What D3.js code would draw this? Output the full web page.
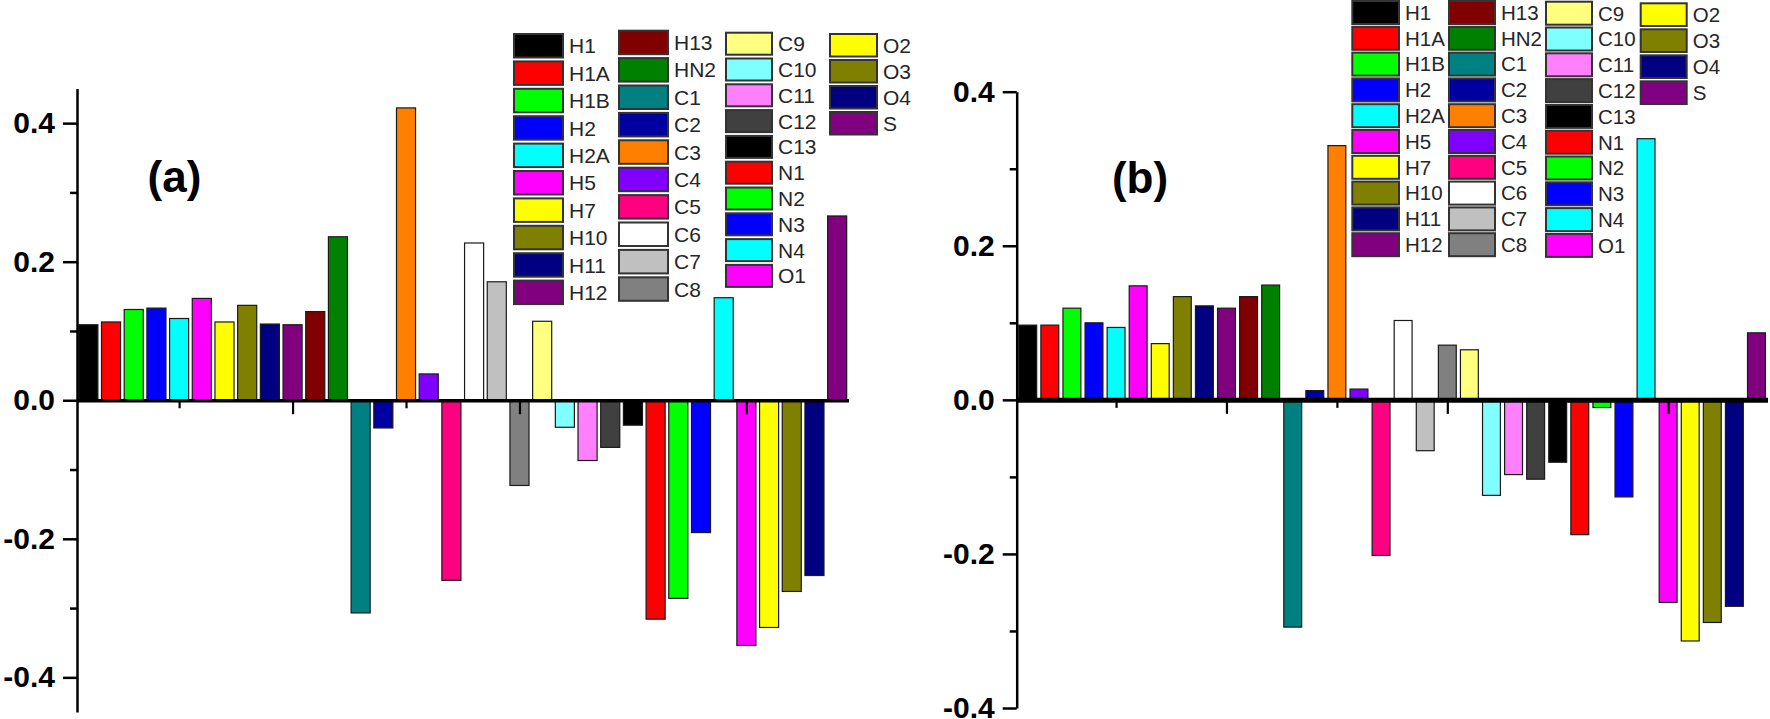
<!DOCTYPE html>
<html>
<head>
<meta charset="utf-8">
<script src="https://cdn.jsdelivr.net/npm/d3@7"></script>
<style>
  html, body { margin: 0; padding: 0; background: #fff; }
  svg { display: block; font-family: "Liberation Sans", Arial, Helvetica, sans-serif; }
</style>
</head>
<body>
<svg id="chart" width="1770" height="719"></svg>
<script>
// ---------------- DATA ----------------
const categories = ["H1","H1A","H1B","H2","H2A","H5","H7","H10","H11","H12",
                    "H13","HN2","C1","C2","C3","C4","C5","C6","C7","C8",
                    "C9","C10","C11","C12","C13","N1","N2","N3","N4","O1",
                    "O2","O3","O4","S"];

const colors = ["#000000","#FF0000","#00FF00","#0000FF","#00FFFF","#FF00FF","#FFFF00","#808000","#000080","#800080",
                "#800000","#008000","#008080","#0000A0","#FF8000","#8000FF","#FF0080","#FFFFFF","#C0C0C0","#808080",
                "#FFFF80","#80FFFF","#FF80FF","#404040","#000000","#FF0000","#00FF00","#0000FF","#00FFFF","#FF00FF",
                "#FFFF00","#808000","#000080","#800080"];

const valuesA = [0.109, 0.113, 0.131, 0.133, 0.118, 0.147, 0.113, 0.137, 0.110, 0.109,
                 0.128, 0.236, -0.307, -0.040, 0.422, 0.038, -0.260, 0.227, 0.171, -0.123,
                 0.114, -0.039, -0.087, -0.068, -0.036, -0.316, -0.286, -0.191, 0.148, -0.354,
                 -0.328, -0.276, -0.253, 0.266];

const valuesB = [0.097, 0.097, 0.119, 0.100, 0.094, 0.148, 0.073, 0.134, 0.122, 0.119,
                 0.134, 0.149, -0.295, 0.012, 0.330, 0.014, -0.202, 0.103, -0.066, 0.071,
                 0.065, -0.124, -0.097, -0.103, -0.081, -0.175, -0.010, -0.126, 0.339, -0.263,
                 -0.313, -0.289, -0.268, 0.087];

const yMajorTicks = [-0.4, -0.2, 0.0, 0.2, 0.4];
const yMinorTicks = [-0.3, -0.1, 0.1, 0.3];
const xMajorTicks = [10, 20, 30];
const xMinorTicks = [5, 15, 25];
const panelLabels = ["(a)", "(b)"];
// legend column membership (number of entries in each column)
const legendColumnSizes = [10, 10, 10, 4];

// ---------------- LAYOUT ----------------
const panels = [
  { values: valuesA, label: panelLabels[0],
    xRange: [77, 848.5], yDomain: [-0.45, 0.45], yRange: [712, 88.5],
    xAxisWidth: 3.5, barFrac: 0.84,
    labelPos: [174.5, 192],
    legend: { cols: [ {x: 514, y: 34,   pitch: 27.4, w: 49, h: 23.5},
                      {x: 619, y: 30.7, pitch: 27.4, w: 49, h: 23.5},
                      {x: 726, y: 32.7, pitch: 25.8, w: 46, h: 22},
                      {x: 830, y: 34,   pitch: 26,   w: 47, h: 22.5} ],
              fontSize: 21, gap: 6 } },
  { values: valuesB, label: panelLabels[1],
    xRange: [1016.7, 1767.5], yDomain: [-0.4, 0.4], yRange: [708, 91.7],
    xAxisWidth: 5, barFrac: 0.81,
    labelPos: [1140, 193],
    legend: { cols: [ {x: 1352.3, y: 1,   pitch: 25.8, w: 46.7, h: 23},
                      {x: 1449,   y: 1,   pitch: 25.8, w: 46,   h: 23},
                      {x: 1546,   y: 1.7, pitch: 25.8, w: 46,   h: 23},
                      {x: 1640.7, y: 3.3, pitch: 26,   w: 46,   h: 22.7} ],
              fontSize: 20.5, gap: 6 } }
];

const svg = d3.select("#chart");
const fmt = v => d3.format(".1f")(v).replace("\u2212", "-");

panels.forEach(p => {
  const g = svg.append("g");
  const x = d3.scaleLinear().domain([0.5, categories.length + 0.5]).range(p.xRange);
  const y = d3.scaleLinear().domain(p.yDomain).range(p.yRange);
  const bw = (x(2) - x(1)) * p.barFrac;

  // bars
  g.append("g").selectAll("rect")
    .data(p.values)
    .join("rect")
    .attr("x", (d, i) => x(i + 1) - bw / 2)
    .attr("y", d => y(Math.max(0, d)))
    .attr("width", bw)
    .attr("height", d => Math.abs(y(d) - y(0)))
    .attr("fill", (d, i) => colors[i])
    .attr("stroke", "#1a1a1a")
    .attr("stroke-width", 1.2);

  // x axis (zero line) with ticks
  const xAxisMajor = d3.axisBottom(x).tickValues(xMajorTicks).tickSize(14).tickSizeOuter(0).tickFormat("");
  const xAxisMinor = d3.axisBottom(x).tickValues(xMinorTicks).tickSize(8).tickSizeOuter(0).tickFormat("");
  const gx = g.append("g").attr("transform", `translate(0,${y(0)})`).call(xAxisMajor);
  gx.select(".domain").attr("stroke", "#000").attr("stroke-width", p.xAxisWidth);
  gx.selectAll(".tick line").attr("stroke", "#000").attr("stroke-width", 2.2);
  const gx2 = g.append("g").attr("transform", `translate(0,${y(0)})`).call(xAxisMinor);
  gx2.select(".domain").remove();
  gx2.selectAll(".tick line").attr("stroke", "#000").attr("stroke-width", 2.2);

  // y axis
  const yAxis = d3.axisLeft(y).tickValues(yMajorTicks).tickSize(14).tickSizeOuter(0).tickPadding(8).tickFormat(fmt);
  const gy = g.append("g").attr("transform", `translate(${p.xRange[0]},0)`).call(yAxis);
  gy.select(".domain").attr("stroke", "#000").attr("stroke-width", 2.5);
  gy.selectAll(".tick line").attr("stroke", "#000").attr("stroke-width", 2.5);
  gy.selectAll(".tick text")
    .attr("fill", "#000")
    .style("font-size", "30px")
    .style("font-weight", "bold")
    .style("font-family", "'Liberation Sans', Arial, sans-serif");
  const gyMinor = g.append("g").attr("transform", `translate(${p.xRange[0]},0)`)
    .call(d3.axisLeft(y).tickValues(yMinorTicks).tickSize(7).tickFormat(""));
  gyMinor.select(".domain").remove();
  gyMinor.selectAll(".tick line").attr("stroke", "#000").attr("stroke-width", 2.5);

  // panel label
  g.append("text")
    .attr("x", p.labelPos[0]).attr("y", p.labelPos[1])
    .attr("text-anchor", "middle")
    .style("font-size", "44px").style("font-weight", "bold")
    .attr("fill", "#000")
    .text(p.label);

  // legend
  const lg = g.append("g");
  let idx = 0;
  legendColumnSizes.forEach((n, c) => {
    const col = p.legend.cols[c];
    for (let r = 0; r < n; r++, idx++) {
      const yy = col.y + r * col.pitch;
      lg.append("rect")
        .attr("x", col.x).attr("y", yy)
        .attr("width", col.w).attr("height", col.h)
        .attr("fill", colors[idx])
        .attr("stroke", "#333")
        .attr("stroke-width", 2);
      lg.append("text")
        .attr("x", col.x + col.w + p.legend.gap)
        .attr("y", yy + col.h / 2)
        .attr("dy", "0.36em")
        .style("font-size", p.legend.fontSize + "px")
        .attr("fill", "#262626")
        .text(categories[idx]);
    }
  });
});
</script>
</body>
</html>
